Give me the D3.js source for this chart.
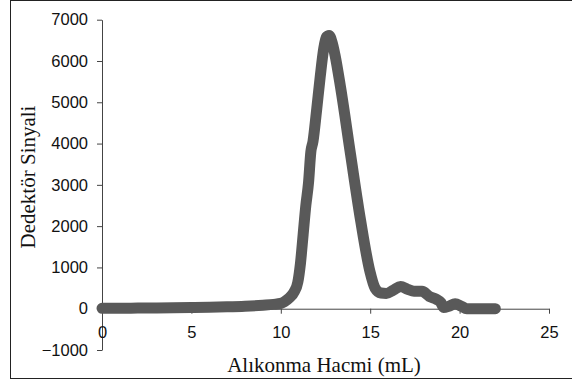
<!DOCTYPE html>
<html>
<head>
<meta charset="utf-8">
<script src="https://cdn.jsdelivr.net/npm/d3@7"></script>
<style>
  body { margin: 0; background: #fff; }
  svg { display: block; }
</style>
</head>
<body>
<div id="chart"></div>
<script>
// retention volume (mL) and detector signal
const volume = [0, 1, 2, 3, 4, 5, 6, 7, 8, 9, 9.6, 10.0, 10.2, 10.5, 10.75, 10.95, 11.1, 11.25, 11.4,
  11.55, 11.68, 11.8, 12.0, 12.2, 12.4, 12.55, 12.7, 12.85, 13.03, 13.35, 13.9, 14.47, 14.98, 15.27,
  15.6, 15.9, 16.3, 16.7, 17.1, 17.45, 17.9, 18.3, 18.7, 18.95, 19.1, 19.4, 19.75, 20.1, 20.4, 21, 22];
const signal = [10, 12, 15, 18, 22, 28, 35, 45, 60, 85, 105, 130, 170, 270, 410, 640, 1100, 1800, 2500,
  3050, 3800, 4050, 4800, 5600, 6300, 6580, 6620, 6480, 6150, 5340, 3740, 2120, 910, 500,
  380, 370, 450, 540, 470, 420, 420, 300, 230, 150, 30, 60, 120, 60, 0, 0, 0];

const xTicks = [0, 5, 10, 15, 20, 25];
const yTicks = [-1000, 0, 1000, 2000, 3000, 4000, 5000, 6000, 7000];

const width = 572, height = 380;

const svg = d3.select('#chart')
  .append('svg')
  .attr('width', width)
  .attr('height', height);

// outer chart border
svg.append('rect')
  .attr('x', 10.5).attr('y', 0.5)
  .attr('width', 562).attr('height', 378)
  .attr('fill', 'none')
  .attr('stroke', '#222')
  .attr('stroke-width', 1);

const x = d3.scaleLinear().domain([0, 25]).range([102, 549]);
const y = d3.scaleLinear().domain([-1000, 7000]).range([350, 19.7]);

// y axis
const yAxis = svg.append('g')
  .attr('transform', `translate(${x(0)},0)`)
  .call(d3.axisLeft(y).tickValues(yTicks).tickSize(5).tickSizeOuter(0).tickPadding(9).tickFormat(d3.format('d')));

// x axis crosses at zero
const xAxis = svg.append('g')
  .attr('transform', `translate(0,${y(0)})`)
  .call(d3.axisBottom(x).tickValues(xTicks).tickSize(5).tickSizeOuter(0).tickPadding(9));

[xAxis, yAxis].forEach(g => {
  g.select('.domain').attr('stroke', '#444');
  g.selectAll('.tick line').attr('stroke', '#444');
  g.selectAll('.tick text')
    .attr('fill', '#111')
    .style('font-family', '"Liberation Sans", Arial, sans-serif')
    .style('font-size', '16.5px');
});
xAxis.selectAll('.tick text').attr('dy', '0.9em');

// signal trace
const line = d3.line()
  .x((d, i) => x(volume[i]))
  .y(d => y(d))
  .curve(d3.curveMonotoneX);

svg.append('path')
  .datum(signal)
  .attr('d', line)
  .attr('fill', 'none')
  .attr('stroke', '#595959')
  .attr('stroke-width', 11)
  .attr('stroke-linejoin', 'round')
  .attr('stroke-linecap', 'round');

// axis titles
svg.append('text')
  .attr('x', 324)
  .attr('y', 371.5)
  .attr('text-anchor', 'middle')
  .style('font-family', '"Liberation Serif", "Times New Roman", serif')
  .style('font-size', '21px')
  .attr('fill', '#111')
  .text('Alıkonma Hacmi (mL)');

svg.append('text')
  .attr('transform', 'rotate(-90)')
  .attr('x', -177)
  .attr('y', 35)
  .attr('text-anchor', 'middle')
  .style('font-family', '"Liberation Serif", "Times New Roman", serif')
  .style('font-size', '21px')
  .attr('fill', '#111')
  .text('Dedektör Sinyali');
</script>
</body>
</html>
